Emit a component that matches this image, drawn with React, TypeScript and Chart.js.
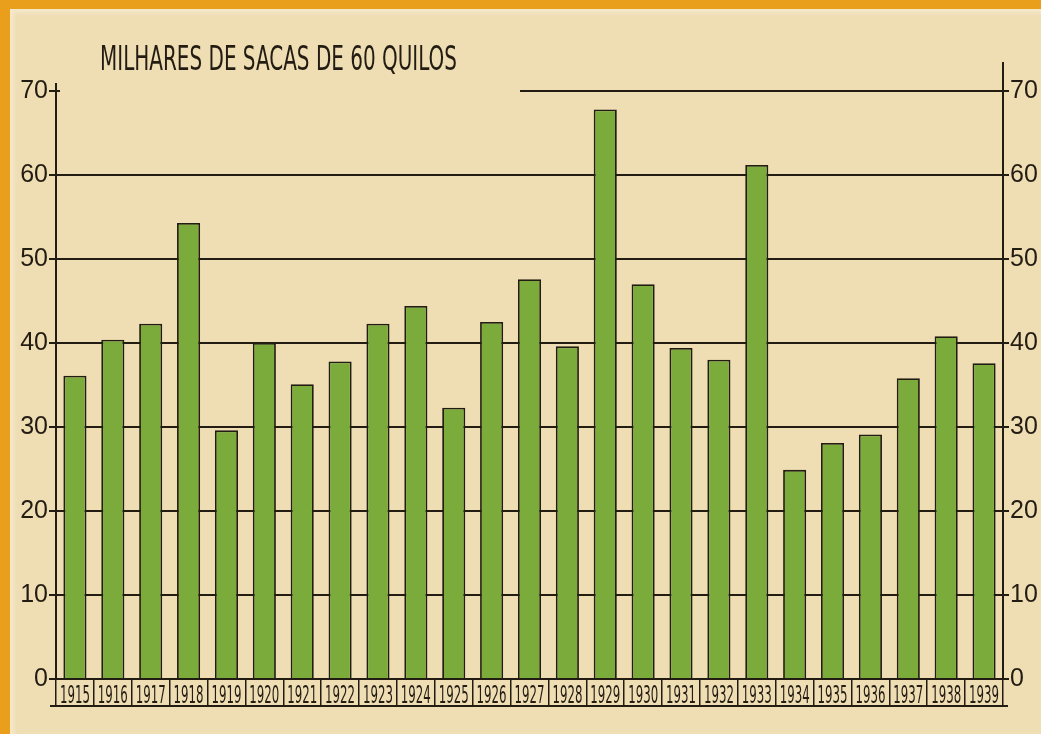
import { useEffect, useRef } from 'react';
import { Chart, registerables } from 'chart.js';

Chart.register(...registerables);

const years = [
  '1915', '1916', '1917', '1918', '1919', '1920', '1921', '1922', '1923', '1924',
  '1925', '1926', '1927', '1928', '1929', '1930', '1931', '1932', '1933', '1934',
  '1935', '1936', '1937', '1938', '1939',
];
const bags = [
  36.1, 40.4, 42.3, 54.3, 29.6, 40.0, 35.1, 37.8, 42.3, 44.4,
  32.3, 42.5, 47.6, 39.6, 67.8, 47.0, 39.4, 38.0, 61.2, 24.9,
  28.1, 29.1, 35.8, 40.8, 37.6,
];
const yTicks = [0, 10, 20, 30, 40, 50, 60, 70];
const titleText = 'MILHARES DE SACAS DE 60 QUILOS';

const INK = '#221c12';
const GREEN = '#7aab3b';
const CONDENSED = '"DejaVu Sans Condensed", "DejaVu Sans", sans-serif';

function drawNarrowText(ctx: CanvasRenderingContext2D, text: string, cx: number, baseline: number, targetW: number) {
  const w = ctx.measureText(text).width;
  ctx.save();
  ctx.translate(cx, baseline);
  ctx.scale(targetW / w, 1);
  ctx.textAlign = 'center';
  ctx.fillText(text, 0, 0);
  ctx.restore();
}

const decorPlugin = {
  id: 'decor',
  afterDraw(chart: any) {
    const { ctx, chartArea, scales } = chart;
    const x = scales.x;
    const y = scales.y;
    ctx.save();
    ctx.strokeStyle = INK;
    ctx.lineWidth = 2;
    // partial top (70) line
    const top = y.getPixelForValue(70);
    ctx.beginPath();
    ctx.moveTo(x.getPixelForValue(11.75), top);
    ctx.lineTo(chartArea.right, top);
    ctx.stroke();
    // axis extensions above chart area
    ctx.beginPath();
    ctx.moveTo(chartArea.left, chartArea.top - 8);
    ctx.lineTo(chartArea.left, chartArea.top);
    ctx.moveTo(chartArea.left - 3, chartArea.top);
    ctx.lineTo(chartArea.left + 4, chartArea.top);
    ctx.moveTo(chartArea.right, chartArea.top - 29);
    ctx.lineTo(chartArea.right, chartArea.top);
    ctx.stroke();
    // underline below year boxes
    ctx.beginPath();
    ctx.moveTo(chartArea.left - 6, x.bottom - 1);
    ctx.lineTo(chartArea.right + 5, x.bottom - 1);
    ctx.stroke();
    // year labels (tall, narrow lettering)
    ctx.fillStyle = INK;
    ctx.font = '24px ' + CONDENSED;
    ctx.textBaseline = 'alphabetic';
    x.ticks.forEach((_t: any, i: number) => {
      const label = x.getLabelForValue(i);
      drawNarrowText(ctx, label, x.getPixelForTick(i), x.top + 24, 30);
    });
    // title
    ctx.font = '33px ' + CONDENSED;
    const w = ctx.measureText(titleText).width;
    ctx.translate(chartArea.left + 44, 70);
    ctx.scale(357 / w, 1);
    ctx.textAlign = 'left';
    ctx.fillText(titleText, 0, 0);
    ctx.restore();
  },
};

export default function App() {
  const ref = useRef<HTMLCanvasElement>(null);
  useEffect(() => {
    if (!ref.current) return;
    const chart = new Chart(ref.current, {
      type: 'bar',
      data: {
        labels: years,
        datasets: [
          {
            data: bags,
            backgroundColor: GREEN,
            borderColor: INK,
            borderWidth: 1.8,
            barPercentage: 0.61,
            categoryPercentage: 1,
            yAxisID: 'y',
          },
        ],
      },
      options: {
        animation: false,
        responsive: false,
        maintainAspectRatio: false,
        layout: { padding: { left: 10, right: 0, top: 91, bottom: 27 } },
        plugins: { legend: { display: false }, tooltip: { enabled: false }, title: { display: false } },
        scales: {
          x: {
            offset: true,
            afterFit: (s: any) => { s.height = 28; },
            border: { display: true, color: INK, width: 2 },
            grid: {
              offset: true,
              drawOnChartArea: false,
              drawTicks: true,
              tickLength: 27,
              color: INK,
              tickColor: INK,
              lineWidth: 1.5,
            },
            ticks: {
              display: false,
              autoSkip: false,
              maxRotation: 0,
              minRotation: 0,
            },
          },
          y: {
            position: 'left',
            min: 0,
            max: 70,
            afterFit: (s: any) => { s.width = 46; },
            afterBuildTicks: (s: any) => { s.ticks = yTicks.map((v) => ({ value: v })); },
            border: { display: true, color: INK, width: 2 },
            grid: {
              drawOnChartArea: true,
              tickLength: 7,
              lineWidth: 2,
              color: (c: any) => (c.tick && (c.tick.value === 70 || c.tick.value === 0) ? 'rgba(0,0,0,0)' : INK),
              tickColor: INK,
            },
            ticks: {
              color: INK,
              padding: 1,
              font: { family: '"Liberation Sans", Arial, sans-serif', size: 25 },
            },
          },
          y2: {
            position: 'right',
            min: 0,
            max: 70,
            afterFit: (s: any) => { s.width = 38; },
            afterBuildTicks: (s: any) => { s.ticks = yTicks.map((v) => ({ value: v })); },
            border: { display: true, color: INK, width: 2 },
            grid: { drawOnChartArea: false, tickLength: 6, lineWidth: 2, color: INK, tickColor: INK },
            ticks: {
              color: INK,
              padding: 1,
              font: { family: '"Liberation Sans", Arial, sans-serif', size: 25 },
            },
          },
        },
      },
      plugins: [decorPlugin],
    });
    return () => chart.destroy();
  }, []);

  return (
    <div style={{ position: 'fixed', left: 0, top: 0, width: 1041, height: 734, background: '#e99e1c', overflow: 'hidden' }}>
      <div
        style={{
          position: 'absolute',
          left: 10,
          top: 9,
          right: 0,
          bottom: 0,
          background: '#efddb4',
          boxShadow: 'inset 4px 4px 4px rgba(250,240,215,0.6)',
        }}
      />
      <canvas ref={ref} width={1041} height={734} style={{ position: 'absolute', left: 0, top: 0, width: 1041, height: 734 }} />
    </div>
  );
}
